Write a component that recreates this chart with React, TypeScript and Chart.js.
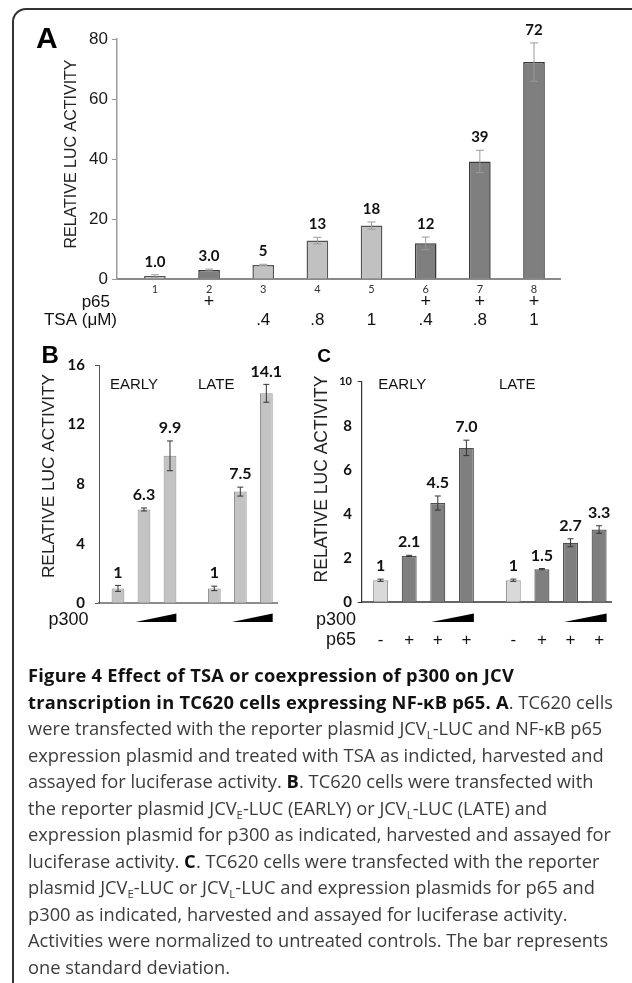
import React, { useEffect, useRef } from "react";
import { Chart, registerables } from "chart.js";

Chart.register(...registerables);

const SANS = '"Liberation Sans", Arial, Helvetica, sans-serif';
const NUM = 'Lato, "Open Sans", sans-serif';

// ---------- Panel A ----------
const lanesA = [1, 2, 3, 4, 5, 6, 7, 8];
const valuesA = [1.0, 3.0, 4.7, 12.8, 17.8, 11.9, 39.2, 72.3];
const errorsA = [0.4, 0.3, 0.2, 1.1, 1.2, 2.1, 3.7, 6.4];
const valueLabelsA = ["1.0", "3.0", "5", "13", "18", "12", "39", "72"];
const p65A = ["", "+", "", "", "", "+", "+", "+"];
const tsaA = ["", "", ".4", ".8", "1", ".4", ".8", "1"];
const yTicksA = [0, 20, 40, 60, 80];

// ---------- Panel B ----------
const groupsB = ["EARLY", "LATE"];
const bNoP300 = [1, 1];
const bLowP300 = [6.3, 7.5];
const bHighP300 = [9.9, 14.1];
const bErrNo = [0.2, 0.15];
const bErrLow = [0.1, 0.3];
const bErrHigh = [1.0, 0.6];
const bLabNo = ["1", "1"];
const bLabLow = ["6.3", "7.5"];
const bLabHigh = ["9.9", "14.1"];
const yTicksB = [0, 4, 8, 12, 16];

// ---------- Panel C ----------
const groupsC = ["EARLY", "LATE"];
const p65C = ["-", "+", "+", "+"];
const cControl = [1, 1];
const cP65 = [2.1, 1.5];
const cP65LowP300 = [4.5, 2.7];
const cP65HighP300 = [7.0, 3.3];
const cErrControl = [0.05, 0.05];
const cErrP65 = [0.03, 0.03];
const cErrLow = [0.32, 0.18];
const cErrHigh = [0.35, 0.17];
const cLabControl = ["1", "1"];
const cLabP65 = ["2.1", "1.5"];
const cLabLow = ["4.5", "2.7"];
const cLabHigh = ["7.0", "3.3"];
const yTicksC = [0, 2, 4, 6, 8, 10];

type Series = {
  values: number[];
  errors: number[];
  labels: string[];
  fill: string | string[];
  border: string | string[];
  borderWidth: number;
};

type PanelCfg = {
  ox: number; oy: number; w: number; h: number;
  area: { l: number; r: number; t: number; b: number };
  xs: number[]; xMin: number; xMax: number;
  cp: number; bp: number;
  series: Series[];
  yTicks: number[];
  yGrid: any; yBorder: any; yTickOpts: any;
  xBorder: any; xTickOpts: any;
  err: { color: string; width: number; cap: number };
  labelFont: string; labelGap: number;
  extras: (ctx: CanvasRenderingContext2D, chart: any, bx: (d: number, i: number) => { x: number; w: number }) => void;
};

function txt(ctx: CanvasRenderingContext2D, s: string, x: number, y: number, font: string, align: CanvasTextAlign = "center", color = "#111", baseline: CanvasTextBaseline = "middle") {
  ctx.save();
  ctx.font = font;
  ctx.fillStyle = color;
  ctx.textAlign = align;
  ctx.textBaseline = baseline;
  ctx.fillText(s, x, y);
  ctx.restore();
}

function vtxt(ctx: CanvasRenderingContext2D, s: string, cx: number, cy: number, font: string, color = "#222") {
  ctx.save();
  ctx.translate(cx, cy);
  ctx.rotate(-Math.PI / 2);
  ctx.font = font;
  ctx.fillStyle = color;
  ctx.textAlign = "center";
  ctx.textBaseline = "middle";
  ctx.fillText(s, 0, 0);
  ctx.restore();
}

function wedge(ctx: CanvasRenderingContext2D, x1: number, x2: number, yb: number, hgt: number) {
  ctx.save();
  ctx.fillStyle = "#000";
  ctx.beginPath();
  ctx.moveTo(x1, yb);
  ctx.lineTo(x2, yb);
  ctx.lineTo(x2, yb - hgt);
  ctx.closePath();
  ctx.fill();
  ctx.restore();
}

function buildChart(canvas: HTMLCanvasElement, p: PanelCfg) {
  const padTop = p.area.t - p.oy;
  const padRight = p.ox + p.w - p.area.r;
  const yWidth = p.area.l - p.ox;
  const xHeight = p.oy + p.h - p.area.b;

  const datasets = p.series.map((s) => ({
    data: p.xs.map((x, i) => ({ x, y: s.values[i] })),
    backgroundColor: s.fill,
    borderColor: s.border,
    borderWidth: s.borderWidth,
    categoryPercentage: p.cp,
    barPercentage: p.bp,
  }));

  const plugin = {
    id: "panelExtras",
    afterDatasetsDraw(chart: any) {
      const ctx = chart.ctx as CanvasRenderingContext2D;
      const ys = chart.scales.y;
      p.series.forEach((s, d) => {
        const meta = chart.getDatasetMeta(d);
        meta.data.forEach((bar: any, i: number) => {
          const x = bar.x;
          const top = ys.getPixelForValue(s.values[i] + s.errors[i]);
          const bot = ys.getPixelForValue(Math.max(0, s.values[i] - s.errors[i]));
          ctx.save();
          ctx.strokeStyle = p.err.color;
          ctx.lineWidth = p.err.width;
          ctx.beginPath();
          ctx.moveTo(x, top);
          ctx.lineTo(x, bot);
          ctx.moveTo(x - p.err.cap, top);
          ctx.lineTo(x + p.err.cap, top);
          ctx.moveTo(x - p.err.cap, bot);
          ctx.lineTo(x + p.err.cap, bot);
          ctx.stroke();
          ctx.restore();
          txt(ctx, s.labels[i], x, top - p.labelGap, p.labelFont, "center", "#111");
        });
      });
    },
    afterDraw(chart: any) {
      const ctx = chart.ctx as CanvasRenderingContext2D;
      const bx = (d: number, i: number) => {
        const bar: any = chart.getDatasetMeta(d).data[i];
        return { x: bar.x + p.ox, w: bar.width };
      };
      ctx.save();
      ctx.translate(-p.ox, -p.oy);
      p.extras(ctx, chart, bx);
      ctx.restore();
    },
  };

  return new Chart(canvas, {
    type: "bar",
    data: { datasets: datasets as any },
    options: {
      animation: false,
      responsive: false,
      devicePixelRatio: 1,
      layout: { padding: { left: 0, right: padRight, top: padTop, bottom: 0 } },
      plugins: { legend: { display: false }, tooltip: { enabled: false } },
      scales: {
        x: {
          type: "linear",
          min: p.xMin,
          max: p.xMax,
          offset: false,
          afterBuildTicks: (s: any) => {
            s.ticks = p.xs.map((v) => ({ value: v }));
          },
          afterFit: (s: any) => {
            s.height = xHeight;
          },
          grid: { display: true, offset: false, drawOnChartArea: false, drawTicks: false, color: "rgba(0,0,0,0)" },
          border: p.xBorder,
          ticks: p.xTickOpts,
        },
        y: {
          min: p.yTicks[0],
          max: p.yTicks[p.yTicks.length - 1],
          afterBuildTicks: (s: any) => {
            s.ticks = p.yTicks.map((v) => ({ value: v }));
          },
          afterFit: (s: any) => {
            s.width = yWidth;
          },
          grid: p.yGrid,
          border: p.yBorder,
          ticks: p.yTickOpts,
        },
      } as any,
    },
    plugins: [plugin],
  });
}

const LIGHT_A = "#c1c1c1";
const DARK_A = "#7f7f7f";

const cfgA: PanelCfg = {
  ox: 0, oy: 0, w: 632, h: 340,
  area: { l: 117, r: 560, t: 39, b: 279 },
  xs: lanesA, xMin: 0.3, xMax: 8.48,
  cp: 1, bp: 0.4,
  series: [
    {
      values: valuesA,
      errors: errorsA,
      labels: valueLabelsA,
      fill: lanesA.map((_, i) => (p65A[i] === "+" ? DARK_A : LIGHT_A)),
      border: lanesA.map((_, i) => (p65A[i] === "+" ? "#3a3a3a" : "#555555")),
      borderWidth: 1.5,
    },
  ],
  yTicks: yTicksA,
  yGrid: { drawOnChartArea: false, tickLength: 5, color: "#9a9a9a", lineWidth: 1 },
  yBorder: { color: "#9a9a9a", width: 1.5 },
  yTickOpts: { padding: 4, color: "#1a1a1a", font: { family: SANS, size: 17 } },
  xBorder: { color: "#8a8a8a", width: 2 },
  xTickOpts: {
    display: true, padding: 4, color: "#333", autoSkip: false, maxRotation: 0,
    font: { family: NUM, size: 11 },
    callback: (v: any) => String(v),
  },
  err: { color: "#9a9a9a", width: 1, cap: 4 },
  labelFont: `bold 15px ${NUM}`,
  labelGap: 13,
  extras: (ctx, chart, bx) => {
    txt(ctx, "A", 36, 48, `bold 30px ${SANS}`, "left", "#000", "alphabetic");
    vtxt(ctx, "RELATIVE LUC ACTIVITY", 71.5, 154, `16px ${SANS}`, "#222");
    txt(ctx, "p65", 110, 302, `17px ${SANS}`, "right", "#111");
    txt(ctx, "TSA (\u03bcM)", 117, 320, `17px ${SANS}`, "right", "#111");
    lanesA.forEach((_, i) => {
      const { x } = bx(0, i);
      if (p65A[i]) txt(ctx, p65A[i], x, 302, `18px ${SANS}`, "center", "#111");
      if (tsaA[i]) txt(ctx, tsaA[i], x, 320, `17px ${SANS}`, "center", "#111");
    });
  },
};

const LIGHT_B = "#c3c3c3";
const BORDER_B = "#8c8c8c";

const cfgB: PanelCfg = {
  ox: 0, oy: 335, w: 310, h: 330,
  area: { l: 99, r: 277.7, t: 365, b: 603.3 },
  xs: groupsB.map((_, i) => i), xMin: -0.467, xMax: 1.388,
  cp: 0.81, bp: 0.49,
  series: [
    { values: bNoP300, errors: bErrNo, labels: bLabNo, fill: LIGHT_B, border: BORDER_B, borderWidth: 1 },
    { values: bLowP300, errors: bErrLow, labels: bLabLow, fill: LIGHT_B, border: BORDER_B, borderWidth: 1 },
    { values: bHighP300, errors: bErrHigh, labels: bLabHigh, fill: LIGHT_B, border: BORDER_B, borderWidth: 1 },
  ],
  yTicks: yTicksB,
  yGrid: {
    drawOnChartArea: false, tickLength: 4, lineWidth: 1,
    color: (c: any) => (c.tick && (c.tick.value === 0 || c.tick.value === 16) ? "#555" : "rgba(0,0,0,0)"),
  },
  yBorder: { color: "#555", width: 1 },
  yTickOpts: { padding: 10, color: "#111", font: { family: NUM, size: 15, weight: "bold" } },
  xBorder: { color: "#8c8c8c", width: 2 },
  xTickOpts: { display: false },
  err: { color: "#333", width: 1, cap: 3 },
  labelFont: `bold 16px ${NUM}`,
  labelGap: 13,
  extras: (ctx, chart, bx) => {
    txt(ctx, "B", 41.5, 363, `bold 24px ${SANS}`, "left", "#000", "alphabetic");
    vtxt(ctx, "RELATIVE LUC ACTIVITY", 49.5, 476, `17.3px ${SANS}`, "#222");
    txt(ctx, groupsB[0], 110, 385, `15px ${SANS}`, "left", "#111");
    txt(ctx, groupsB[1], 198, 385, `15px ${SANS}`, "left", "#111");
    txt(ctx, "p300", 88.5, 620.5, `18px ${SANS}`, "right", "#111");
    groupsB.forEach((_, g) => {
      const lo = bx(1, g);
      const hi = bx(2, g);
      wedge(ctx, lo.x - lo.w / 2 - 2, hi.x + hi.w / 2, 622, 8.5);
    });
  },
};

const LIGHT_C = "#d9d9d9";
const DARK_C = "#7f7f7f";

const cfgC: PanelCfg = {
  ox: 300, oy: 335, w: 332, h: 330,
  area: { l: 361.7, r: 611.7, t: 381.7, b: 602.3 },
  xs: groupsC.map((_, i) => i), xMin: -0.4655, xMax: 1.418,
  cp: 0.862, bp: 0.524,
  series: [
    { values: cControl, errors: cErrControl, labels: cLabControl, fill: LIGHT_C, border: "#9a9a9a", borderWidth: 1.2 },
    { values: cP65, errors: cErrP65, labels: cLabP65, fill: DARK_C, border: "#505050", borderWidth: 1.2 },
    { values: cP65LowP300, errors: cErrLow, labels: cLabLow, fill: DARK_C, border: "#505050", borderWidth: 1.2 },
    { values: cP65HighP300, errors: cErrHigh, labels: cLabHigh, fill: DARK_C, border: "#505050", borderWidth: 1.2 },
  ],
  yTicks: yTicksC,
  yGrid: {
    drawOnChartArea: false, tickLength: 4, lineWidth: 1,
    color: (c: any) => (c.tick && (c.tick.value === 0 || c.tick.value === 10) ? "#333" : "rgba(0,0,0,0)"),
  },
  yBorder: { color: "#333", width: 1.2 },
  yTickOpts: {
    padding: 5.7, color: "#111",
    font: (c: any) => ({ family: NUM, weight: "bold", size: c.tick && c.tick.value === 10 ? 11 : 15 }),
  },
  xBorder: { color: "#666", width: 2 },
  xTickOpts: { display: false },
  err: { color: "#333", width: 1, cap: 3 },
  labelFont: `bold 16px ${NUM}`,
  labelGap: 13,
  extras: (ctx, chart, bx) => {
    txt(ctx, "C", 317.3, 361.7, `bold 19px ${SANS}`, "left", "#000", "alphabetic");
    vtxt(ctx, "RELATIVE LUC ACTIVITY", 321.7, 479, `17.5px ${SANS}`, "#222");
    txt(ctx, groupsC[0], 378.3, 385, `15px ${SANS}`, "left", "#111");
    txt(ctx, groupsC[1], 499, 385, `15px ${SANS}`, "left", "#111");
    txt(ctx, "p300", 356, 620, `18px ${SANS}`, "right", "#111");
    txt(ctx, "p65", 356, 640, `18px ${SANS}`, "right", "#111");
    groupsC.forEach((_, g) => {
      p65C.forEach((sign, d) => {
        const { x } = bx(d, g);
        txt(ctx, sign, x, 640, `17px ${SANS}`, "center", "#111");
      });
      const lo = bx(2, g);
      const hi = bx(3, g);
      wedge(ctx, lo.x - lo.w / 2 + 1, hi.x + hi.w / 2, 622, 8.5);
    });
  },
};

const subStyle: React.CSSProperties = { fontSize: "0.62em", verticalAlign: "-0.35em", lineHeight: 0 };
const B: React.CSSProperties = { fontWeight: 700, color: "#111", letterSpacing: "0.25px" };

export default function App() {
  const refA = useRef<HTMLCanvasElement>(null);
  const refB = useRef<HTMLCanvasElement>(null);
  const refC = useRef<HTMLCanvasElement>(null);

  useEffect(() => {
    const charts = [
      buildChart(refA.current!, cfgA),
      buildChart(refB.current!, cfgB),
      buildChart(refC.current!, cfgC),
    ];
    return () => charts.forEach((c) => c.destroy());
  }, []);

  const line: React.CSSProperties = { whiteSpace: "nowrap", height: 26.5 };

  return (
    <div style={{ position: "absolute", left: 0, top: 0, width: 632, height: 983, overflow: "hidden", background: "#fff" }}>
      <div
        style={{
          position: "absolute", left: 12, top: 8, width: 700, height: 1100,
          border: "2px solid #333", borderTopLeftRadius: 14, boxSizing: "border-box",
        }}
      />
      <canvas ref={refA} width={632} height={340} style={{ position: "absolute", left: 0, top: 0 }} />
      <canvas ref={refB} width={310} height={330} style={{ position: "absolute", left: 0, top: 335 }} />
      <canvas ref={refC} width={332} height={330} style={{ position: "absolute", left: 300, top: 335 }} />
      <div
        style={{
          position: "absolute", left: 28, top: 662, fontFamily: '"Open Sans", sans-serif',
          fontSize: 18.3, lineHeight: "26.5px", color: "#3c3c3c",
        }}
      >
        <div style={line}><span style={B}>Figure 4 Effect of TSA or coexpression of p300 on JCV</span></div>
        <div style={line}><span style={B}>transcription in TC620 cells expressing NF-κB p65. A</span>. TC620 cells</div>
        <div style={line}>were transfected with the reporter plasmid JCV<sub style={subStyle}>L</sub>-LUC and NF-κB p65</div>
        <div style={line}>expression plasmid and treated with TSA as indicted, harvested and</div>
        <div style={line}>assayed for luciferase activity. <span style={B}>B</span>. TC620 cells were transfected with</div>
        <div style={line}>the reporter plasmid JCV<sub style={subStyle}>E</sub>-LUC (EARLY) or JCV<sub style={subStyle}>L</sub>-LUC (LATE) and</div>
        <div style={line}>expression plasmid for p300 as indicated, harvested and assayed for</div>
        <div style={line}>luciferase activity. <span style={B}>C</span>. TC620 cells were transfected with the reporter</div>
        <div style={line}>plasmid JCV<sub style={subStyle}>E</sub>-LUC or JCV<sub style={subStyle}>L</sub>-LUC and expression plasmids for p65 and</div>
        <div style={line}>p300 as indicated, harvested and assayed for luciferase activity.</div>
        <div style={line}>Activities were normalized to untreated controls. The bar represents</div>
        <div style={line}>one standard deviation.</div>
      </div>
    </div>
  );
}
